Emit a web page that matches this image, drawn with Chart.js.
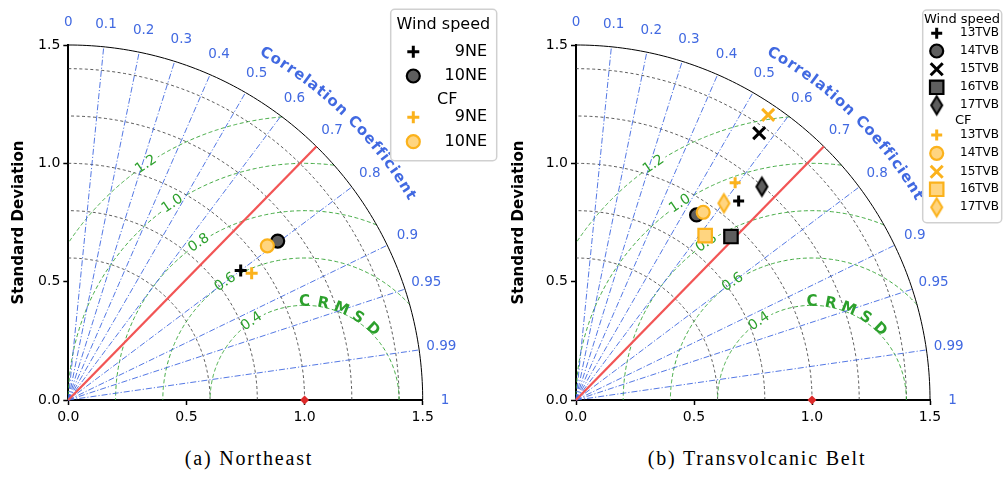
<!DOCTYPE html>
<html>
<head>
<meta charset="utf-8">
<script src="https://cdn.jsdelivr.net/npm/chart.js@4.4.1/dist/chart.umd.min.js"></script>
<style>
  body { margin: 0; background: #fff; width: 1003px; height: 477px; position: relative; overflow: hidden; }
  .panel { position: absolute; top: 0; height: 430px; }
  .cap { position: absolute; top: 447px; width: 300px; text-align: center; letter-spacing: 1.8px;
         font-family: 'Liberation Serif', 'DejaVu Serif', serif; font-size: 20px; color: #000; }
</style>
</head>
<body>
<div class="panel" style="left:0;width:500px"><canvas id="chartA"></canvas></div>
<div class="panel" style="left:500px;width:503px"><canvas id="chartB"></canvas></div>
<div class="cap" style="left:99px">(a) Northeast</div>
<div class="cap" style="left:607px">(b) Transvolcanic Belt</div>
<script>
// grid of the Taylor diagram
const corrTicks = [0, 0.1, 0.2, 0.3, 0.4, 0.5, 0.6, 0.7, 0.8, 0.9, 0.95, 0.99, 1];
const stdGrid = [0.6, 0.8, 1.0, 1.2, 1.4];
const stdMax = 1.5;
const rmsdLevels = [0.4, 0.6, 0.8, 1.0, 1.2];
const axisTicks = [0, 0.5, 1.0, 1.5];
const refStd = 1.0;
const refLineCorr = 0.7;

// (a) Northeast
const neLabels = ['9NE', '10NE'];
const neWindStd = [0.912, 1.112];
const neWindCorr = [0.800, 0.797];
const neCfStd = [0.943, 1.065];
const neCfCorr = [0.823, 0.791];

// (b) Transvolcanic Belt
const tvbLabels = ['13TVB', '14TVB', '15TVB', '16TVB', '17TVB'];
const tvbWindStd = [1.087, 0.934, 1.369, 0.953, 1.197];
const tvbWindCorr = [0.634, 0.547, 0.567, 0.689, 0.658];
const tvbCfStd = [1.139, 0.959, 1.454, 0.884, 1.041];
const tvbCfCorr = [0.592, 0.562, 0.560, 0.619, 0.602];

const windCol = { edge: '#000000', fill: '#5e5e5e' };
const cfCol = { edge: '#fbb21c', fill: '#ffd580' };
const BLUE = '#4169e1';
const GREEN = '#2ca02c';

function toXY(s, c) {
  return { x: s * c, y: s * Math.sqrt(Math.max(0, 1 - c * c)) };
}

function makeDiamond(col) {
  const w = 11, h = 18, lw = 2;
  const c = document.createElement('canvas');
  c.width = w + lw * 2 + 2; c.height = h + lw * 2 + 2;
  const g = c.getContext('2d');
  const cx = c.width / 2, cy = c.height / 2;
  g.beginPath();
  g.moveTo(cx, cy - h / 2); g.lineTo(cx + w / 2, cy);
  g.lineTo(cx, cy + h / 2); g.lineTo(cx - w / 2, cy);
  g.closePath();
  g.fillStyle = col.fill; g.fill();
  g.lineWidth = lw; g.strokeStyle = col.edge; g.stroke();
  return c;
}

function pointSets(labels, std, corr, shapes, col, order) {
  return labels.map((lab, i) => {
    const sh = shapes[i];
    const lineMark = sh.style === 'cross' || sh.style === 'crossRot';
    const style = sh.style === 'diamond' ? makeDiamond(col) : sh.style;
    return {
      label: lab,
      data: [toXY(std[i], corr[i])],
      pointStyle: style,
      pointRadius: sh.r,
      pointBorderWidth: lineMark ? 3 : 2.2,
      pointBorderColor: col.edge,
      pointBackgroundColor: lineMark ? col.edge : col.fill,
      borderColor: col.edge,
      backgroundColor: lineMark ? col.edge : col.fill,
      showLine: false,
      clip: false,
      order: order
    };
  });
}

function extraSets() {
  return [
    { label: 'ref', data: [toXY(refStd, 1)], pointStyle: 'rectRot', pointRadius: 4.5,
      pointBackgroundColor: '#dd2a2a', pointBorderWidth: 0, clip: false, order: -1 },
    { label: 'line', data: [{ x: 0, y: 0 }, toXY(stdMax, refLineCorr)], showLine: true,
      borderColor: '#f25555', borderWidth: 2.3, pointRadius: 0, clip: false, order: 10 }
  ];
}

function drawPath(ctx, pts) {
  ctx.beginPath();
  pts.forEach((p, i) => i ? ctx.lineTo(p[0], p[1]) : ctx.moveTo(p[0], p[1]));
  ctx.stroke();
}

const taylorPlugin = {
  id: 'taylor',
  beforeDatasetsDraw(chart) {
    const ctx = chart.ctx, xs = chart.scales.x, ys = chart.scales.y;
    const P = (x, y) => [xs.getPixelForValue(x), ys.getPixelForValue(y)];
    const unit = xs.getPixelForValue(1) - xs.getPixelForValue(0);
    const arc = (cx, r, a0, a1) => {
      const pts = [];
      for (let i = 0; i <= 120; i++) {
        const a = a0 + (a1 - a0) * i / 120;
        pts.push(P(cx + r * Math.cos(a), r * Math.sin(a)));
      }
      return pts;
    };
    ctx.save();

    // std arcs
    ctx.strokeStyle = '#333'; ctx.lineWidth = 0.8; ctx.setLineDash([3, 2.5]);
    stdGrid.forEach(r => drawPath(ctx, arc(0, r, 0, Math.PI / 2)));

    // centred RMS difference arcs, with a gap for the label
    const labAng = 124 * Math.PI / 180;
    ctx.strokeStyle = GREEN; ctx.lineWidth = 0.9; ctx.setLineDash([4, 2.5]);
    rmsdLevels.forEach(R => {
      const cmin = (stdMax * stdMax - 1 - R * R) / (2 * R);
      const a0 = cmin >= 1 ? 0 : Math.acos(cmin);
      const a1 = R <= 1 ? Math.PI : Math.acos(-1 / R);
      const gap = 14 / (R * unit);
      drawPath(ctx, arc(1, R, a0, labAng - gap));
      drawPath(ctx, arc(1, R, labAng + gap, a1));
    });

    // correlation rays
    ctx.strokeStyle = BLUE; ctx.lineWidth = 0.9; ctx.setLineDash([6, 2, 1.2, 2]);
    corrTicks.forEach(c => {
      if (c === 0 || c === 1) return;
      const e = toXY(stdMax, c);
      drawPath(ctx, [P(0, 0), P(e.x, e.y)]);
    });

    // outer boundary
    ctx.setLineDash([]); ctx.strokeStyle = '#000'; ctx.lineWidth = 1;
    drawPath(ctx, arc(0, stdMax, 0, Math.PI / 2));

    // correlation tick labels
    ctx.fillStyle = BLUE; ctx.font = '13.5px "DejaVu Sans"';
    ctx.textAlign = 'center'; ctx.textBaseline = 'middle';
    corrTicks.forEach(c => {
      const p = toXY(1.595, c);
      const q = P(p.x, p.y);
      ctx.fillText(String(c), q[0], q[1]);
    });

    // RMSD contour labels
    ctx.fillStyle = GREEN; ctx.font = '14px "DejaVu Sans"';
    rmsdLevels.forEach(R => {
      const q = P(1 + R * Math.cos(labAng), R * Math.sin(labAng));
      ctx.save();
      ctx.translate(q[0], q[1]);
      ctx.rotate(-(labAng - Math.PI / 2));
      ctx.fillText(R.toFixed(1), 0, 0);
      ctx.restore();
    });

    // CRMSD title
    ctx.font = 'bold 15px "DejaVu Sans"';
    'CRMSD'.split('').forEach((ch, i) => {
      const a = (90 - 11 * i) * Math.PI / 180;
      const q = P(1 + 0.415 * Math.cos(a), 0.415 * Math.sin(a));
      ctx.save();
      ctx.translate(q[0], q[1]);
      ctx.rotate(Math.PI / 2 - a);
      ctx.fillText(ch, 0, 0);
      ctx.restore();
    });

    // Correlation Coefficient title along the arc
    ctx.fillStyle = BLUE; ctx.font = 'bold 15px "DejaVu Sans"';
    const txt = 'Correlation Coefficient';
    const rT = 1.685, rPx = rT * unit, mid = 45.7 * Math.PI / 180, sp = 1;
    const ws = txt.split('').map(ch => ctx.measureText(ch).width + sp);
    const total = ws.reduce((a, b) => a + b, 0);
    let cum = 0;
    txt.split('').forEach((ch, i) => {
      const a = mid + (total / 2 - (cum + ws[i] / 2)) / rPx;
      cum += ws[i];
      const q = P(rT * Math.cos(a), rT * Math.sin(a));
      ctx.save();
      ctx.translate(q[0], q[1]);
      ctx.rotate(Math.PI / 2 - a);
      ctx.fillText(ch, 0, 0);
      ctx.restore();
    });

    ctx.restore();
  },
  afterDraw(chart, args, opts) {
    const lg = opts.legend;
    if (!lg) return;
    const ctx = chart.ctx;
    ctx.save();
    const [bx, by, bw, bh] = lg.box;
    ctx.beginPath();
    ctx.roundRect(bx, by, bw, bh, 4);
    ctx.fillStyle = 'rgba(255,255,255,0.85)'; ctx.fill();
    ctx.strokeStyle = '#d0d0d0'; ctx.lineWidth = 1.5; ctx.stroke();

    ctx.fillStyle = '#000'; ctx.textBaseline = 'middle';
    ctx.font = lg.titleSize + 'px "DejaVu Sans"'; ctx.textAlign = 'left';
    ctx.fillText(lg.title.text, lg.title.x, lg.title.y);

    lg.rows.forEach(row => {
      if (row.text) {
        ctx.fillStyle = '#000'; ctx.font = lg.titleSize + 'px "DejaVu Sans"'; ctx.textAlign = 'left';
        ctx.fillText(row.text, row.x, row.y);
        return;
      }
      const ds = chart.data.datasets[row.ds];
      ctx.fillStyle = ds.pointBackgroundColor;
      ctx.strokeStyle = ds.pointBorderColor;
      ctx.lineWidth = ds.pointBorderWidth;
      Chart.helpers.drawPoint(ctx, { pointStyle: ds.pointStyle, radius: ds.pointRadius,
        borderWidth: ds.pointBorderWidth, rotation: 0 }, lg.markerX, row.y);
      ctx.fillStyle = '#000'; ctx.font = lg.size + 'px "DejaVu Sans"'; ctx.textAlign = lg.textAlign;
      ctx.fillText(ds.label, lg.textX, row.y);
    });
    ctx.restore();
  }
};

function makeChart(id, datasets, yWidth, padRight, legend) {
  const tickFont = { family: 'DejaVu Sans', size: 14 };
  const axis = (title) => ({
    type: 'linear', min: 0, max: stdMax,
    afterBuildTicks: s => { s.ticks = axisTicks.map(v => ({ value: v })); },
    ticks: { font: tickFont, color: '#000', padding: 3, callback: v => v.toFixed(1) },
    grid: { drawOnChartArea: false, drawTicks: true, tickLength: 5, tickWidth: 1.5, tickColor: '#000' },
    border: { display: true, color: '#000', width: 2 },
    title: title
  });
  const xAxis = axis({ display: false });
  xAxis.ticks.padding = 4;
  xAxis.afterFit = s => { s.height = 30; };
  const yAxis = axis({ display: true, text: 'Standard Deviation', color: '#000',
    font: { family: 'DejaVu Sans', size: 15, weight: 'bold' }, padding: { top: 10, bottom: 0 } });
  yAxis.afterFit = s => { s.width = yWidth; };

  return new Chart(document.getElementById(id), {
    type: 'scatter',
    data: { datasets: datasets },
    options: {
      responsive: true,
      maintainAspectRatio: false,
      devicePixelRatio: 1,
      animation: false,
      events: [],
      layout: { padding: { top: 45, right: padRight, left: 0, bottom: 0 } },
      scales: { x: xAxis, y: yAxis },
      plugins: { legend: { display: false }, tooltip: { enabled: false }, taylor: { legend: legend } }
    },
    plugins: [taylorPlugin]
  });
}

// panel (a)
const neShapes = [{ style: 'cross', r: 6 }, { style: 'circle', r: 6.5 }];
const dsA = [].concat(
  pointSets(neLabels, neWindStd, neWindCorr, neShapes, windCol, 2),
  pointSets(neLabels, neCfStd, neCfCorr, neShapes, cfCol, 1),
  extraSets()
);
makeChart('chartA', dsA, 68.3, 77.3, {
  box: [390.7, 9.3, 106, 151.4], titleSize: 16, size: 16,
  title: { text: 'Wind speed', x: 396.5, y: 25 },
  markerX: 413.3, textX: 487, textAlign: 'right',
  rows: [{ ds: 0, y: 51.7 }, { ds: 1, y: 76 }, { text: 'CF', x: 437, y: 100 },
         { ds: 2, y: 117.3 }, { ds: 3, y: 141.7 }]
});

// panel (b)
const tvbShapes = [{ style: 'cross', r: 5.5 }, { style: 'circle', r: 6.5 }, { style: 'crossRot', r: 8.5 },
                   { style: 'rect', r: 9.5 }, { style: 'diamond', r: 8 }];
const dsB = [].concat(
  pointSets(tvbLabels, tvbWindStd, tvbWindCorr, tvbShapes, windCol, 2),
  pointSets(tvbLabels, tvbCfStd, tvbCfCorr, tvbShapes, cfCol, 1),
  extraSets()
);
makeChart('chartB', dsB, 76, 73, {
  box: [422.7, 10, 79, 212.7], titleSize: 13, size: 12,
  title: { text: 'Wind speed', x: 424, y: 19.3 },
  markerX: 436.7, textX: 460, textAlign: 'left',
  rows: [{ ds: 0, y: 33.3 }, { ds: 1, y: 51 }, { ds: 2, y: 69.3 }, { ds: 3, y: 87.3 }, { ds: 4, y: 105.3 },
         { text: 'CF', x: 455, y: 121 },
         { ds: 5, y: 135 }, { ds: 6, y: 153.3 }, { ds: 7, y: 171.7 }, { ds: 8, y: 189.3 }, { ds: 9, y: 207.3 }]
});
</script>
</body>
</html>
